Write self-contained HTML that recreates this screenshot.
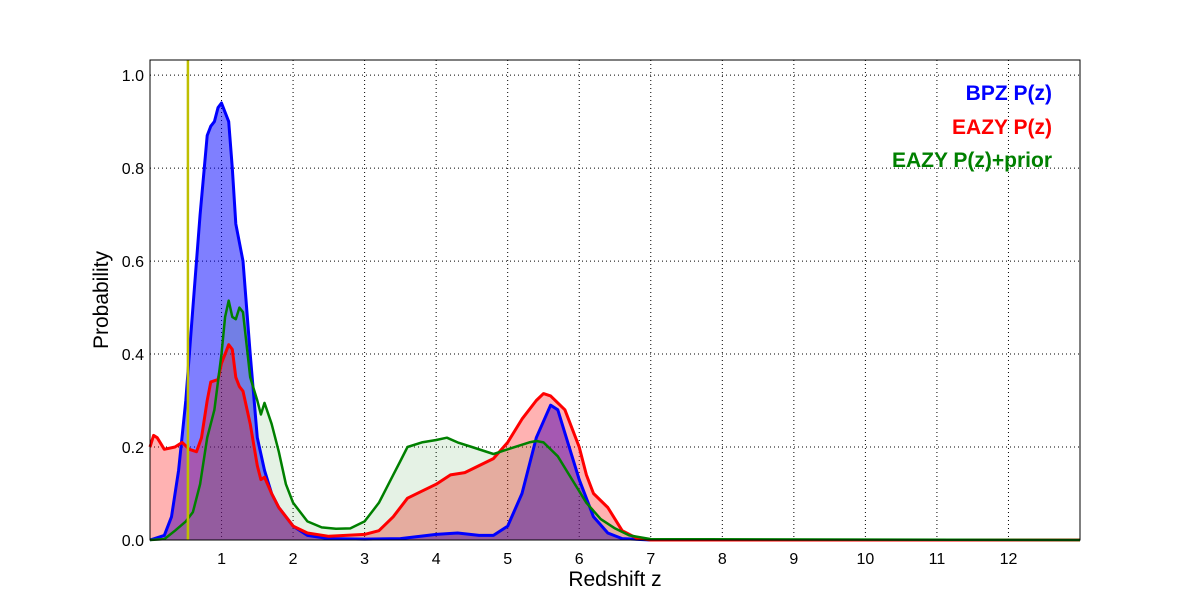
<!DOCTYPE html>
<html><head><meta charset="utf-8"><style>body{margin:0;background:#fff}svg{display:block;font-family:"Liberation Sans",sans-serif}</style></head>
<body>
<svg id="chart" width="1200" height="600"></svg>
<script>
const zBPZ=[0,0.2,0.3,0.4,0.5,0.6,0.7,0.8,0.85,0.9,0.95,1.0,1.05,1.1,1.15,1.2,1.3,1.4,1.5,1.6,1.7,1.8,2.0,2.2,2.5,3,3.5,4,4.3,4.6,4.8,5.0,5.2,5.4,5.6,5.7,5.8,6.0,6.2,6.4,6.6,7,13];
const pBPZ=[0,0.01,0.05,0.15,0.3,0.5,0.7,0.87,0.89,0.9,0.93,0.94,0.92,0.9,0.8,0.68,0.6,0.4,0.22,0.15,0.1,0.07,0.03,0.01,0.003,0.002,0.003,0.012,0.015,0.01,0.01,0.03,0.1,0.22,0.29,0.28,0.23,0.13,0.05,0.015,0.003,0,0];
const zEAZY=[0,0.05,0.1,0.2,0.35,0.45,0.55,0.65,0.72,0.8,0.85,0.95,1.0,1.1,1.15,1.2,1.25,1.3,1.4,1.5,1.55,1.6,1.7,1.8,2.0,2.2,2.5,3.0,3.2,3.4,3.6,3.8,4.0,4.2,4.4,4.6,4.8,5.0,5.2,5.4,5.5,5.6,5.8,6.0,6.1,6.2,6.4,6.6,6.8,7,13];
const pEAZY=[0.2,0.225,0.22,0.195,0.2,0.21,0.195,0.19,0.22,0.3,0.34,0.345,0.38,0.42,0.41,0.35,0.33,0.32,0.25,0.16,0.13,0.135,0.1,0.07,0.03,0.015,0.008,0.012,0.02,0.05,0.09,0.105,0.12,0.14,0.145,0.16,0.175,0.21,0.26,0.3,0.315,0.31,0.28,0.2,0.14,0.1,0.07,0.02,0.004,0,0];
const zPrior=[0,0.2,0.35,0.5,0.6,0.7,0.8,0.9,1.0,1.05,1.1,1.15,1.2,1.25,1.3,1.4,1.5,1.55,1.6,1.7,1.8,1.9,2.0,2.2,2.4,2.6,2.8,3.0,3.2,3.4,3.5,3.6,3.8,4.0,4.15,4.3,4.5,4.8,5.0,5.3,5.4,5.5,5.7,5.9,6.1,6.3,6.5,6.7,7,13];
const pPrior=[0,0.002,0.02,0.04,0.06,0.12,0.22,0.28,0.4,0.48,0.515,0.48,0.475,0.5,0.49,0.35,0.3,0.27,0.295,0.25,0.19,0.12,0.08,0.04,0.027,0.024,0.025,0.04,0.08,0.14,0.17,0.2,0.21,0.215,0.22,0.21,0.2,0.185,0.195,0.21,0.213,0.21,0.18,0.13,0.08,0.045,0.025,0.01,0.002,0];
const xTicks=[1,2,3,4,5,6,7,8,9,10,11,12];
const yTicks=[0.0,0.2,0.4,0.6,0.8,1.0];
const zSpec=0.53;
const NS="http://www.w3.org/2000/svg",svg=document.getElementById('chart');
const L=150,R=1080,T=60,B=540,X=z=>L+z/13*(R-L),Y=p=>B-p/1.0325*(B-T);
function el(t,a,txt){const e=document.createElementNS(NS,t);for(const k in a)e.setAttribute(k,a[k]);if(txt!=null)e.textContent=txt;svg.appendChild(e);return e;}
for(const t of xTicks){const g=el('line',{x1:X(t),x2:X(t),y1:T,y2:B,stroke:'#000','stroke-dasharray':'1,3','stroke-width':1});


const l=el('text',{x:X(t),y:B+24,'text-anchor':'middle','font-size':16},t);

}
for(const t of yTicks){if(t>0){const g=el('line',{x1:L,x2:R,y1:Y(t),y2:Y(t),stroke:'#000','stroke-dasharray':'1,3','stroke-width':1});

}
const l=el('text',{x:L-6,y:Y(t)+6,'text-anchor':'end','font-size':16},t.toFixed(1));

}
function series(zs,ps,col,fa,name){const pts=zs.map((z,i)=>X(z).toFixed(1)+','+Y(ps[i]).toFixed(1));
const f=el('polygon',{points:X(zs[0])+','+Y(0)+' '+pts.join(' ')+' '+X(zs[zs.length-1])+','+Y(0),fill:col,'fill-opacity':fa,stroke:'none'});


return pts;}
const pb=series(zBPZ,pBPZ,'#0000ff',0.5,'bpz');
const pe=series(zEAZY,pEAZY,'#ff0000',0.3,'eazy');
const pp=series(zPrior,pPrior,'#008000',0.1,'eazy-prior');
const l1=el('polyline',{points:pb.join(' '),fill:'none',stroke:'#0000ff','stroke-width':3,'stroke-linejoin':'round'});


const l2=el('polyline',{points:pe.join(' '),fill:'none',stroke:'#ff0000','stroke-width':3,'stroke-linejoin':'round'});


const l3=el('polyline',{points:pp.join(' '),fill:'none',stroke:'#008000','stroke-width':2.5,'stroke-linejoin':'round'});


const v=el('line',{x1:X(zSpec),x2:X(zSpec),y1:T,y2:B,stroke:'#bfbf00','stroke-width':2.5});


const fr=el('rect',{x:L,y:T,width:R-L,height:B-T,fill:'none',stroke:'#000','stroke-width':1});


const leg=[['BPZ P(z)','#0000ff',100],['EAZY P(z)','#ff0000',134],['EAZY P(z)+prior','#008000',167]];
for(const [t,c,y] of leg){const e=el('text',{x:1052,y:y,'text-anchor':'end','font-size':21,'font-weight':'bold',fill:c},t);

}
const xl=el('text',{x:615,y:586,'text-anchor':'middle','font-size':21},'Redshift z');


const yl=el('text',{x:0,y:0,'text-anchor':'middle','font-size':21,transform:'translate(108,300) rotate(-90)'},'Probability');


</script>
</body></html>
